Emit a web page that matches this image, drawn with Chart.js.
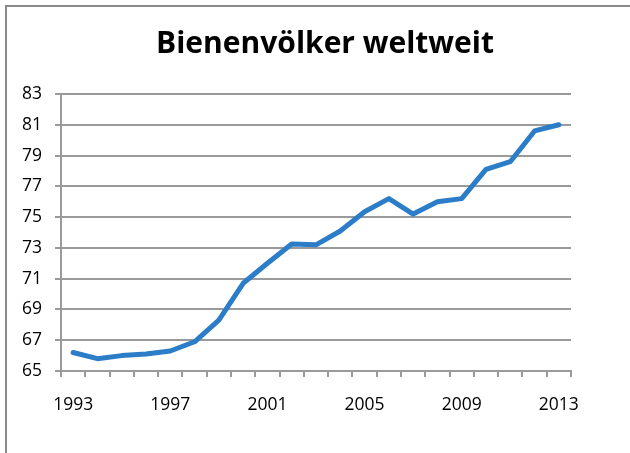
<!DOCTYPE html>
<html>
<head>
<meta charset="utf-8">
<script src="https://cdn.jsdelivr.net/npm/chart.js@4.4.1/dist/chart.umd.min.js"></script>
<style>
  html, body { margin: 0; padding: 0; background: #fff; }
  #wrap { position: relative; width: 630px; height: 453px; overflow: hidden; }
  #frame { position: absolute; left: 5px; top: 5px; width: 640px; height: 460px;
           border-top: 2.5px solid #8a8a8a; border-left: 2.5px solid #8a8a8a; box-sizing: border-box; }
  canvas { position: absolute; left: 0; top: 0; }
</style>
</head>
<body>
<div id="wrap">
  <div id="frame"></div>
  <canvas id="c" width="630" height="453"></canvas>
</div>
<script>
const years = ["1993","1994","1995","1996","1997","1998","1999","2000","2001","2002","2003",
               "2004","2005","2006","2007","2008","2009","2010","2011","2012","2013"];
const colonies = [66.2, 65.8, 66.0, 66.1, 66.3, 66.9, 68.3, 70.7, 72.0, 73.25, 73.2,
                  74.1, 75.35, 76.2, 75.2, 76.0, 76.2, 78.1, 78.6, 80.6, 81.0];
const shownYears = ["1993","1997","2001","2005","2009","2013"];
const titleText = "Bienenvölker weltweit";

const gridColor = '#9a9a9a';

// centre the title over the whole framed panel rather than the padded box
const titleCenter = {
  id: 'titleCenter',
  afterLayout(chart) {
    const t = chart.titleBlock;
    if (t) { t.left = 10; t.right = 640; t.width = t.right - t.left; }
  }
};

new Chart(document.getElementById('c'), {
  type: 'line',
  data: {
    labels: years,
    datasets: [{
      data: colonies,
      borderColor: '#2b7dc8',
      borderWidth: 5,
      pointRadius: 0,
      tension: 0,
      fill: false,
      borderJoinStyle: 'round',
      borderCapStyle: 'round'
    }]
  },
  plugins: [titleCenter],
  options: {
    responsive: false,
    animation: false,
    devicePixelRatio: 1,
    layout: { padding: { left: 0, right: 59, top: 0, bottom: 0 } },
    plugins: {
      legend: { display: false },
      tooltip: { enabled: false },
      title: {
        display: true,
        text: titleText,
        color: '#000',
        font: { family: 'Open Sans', weight: 'bold', size: 30, lineHeight: 1.2 },
        padding: { top: 26, bottom: 32 }
      }
    },
    scales: {
      x: {
        type: 'category',
        offset: true,
        grid: { offset: true, drawOnChartArea: false, drawTicks: true, tickLength: 6,
                color: gridColor, lineWidth: 2 },
        border: { color: gridColor, width: 2 },
        ticks: {
          autoSkip: false, maxRotation: 0, minRotation: 0, padding: 18,
          color: '#000', font: { family: 'Open Sans', size: 17.5 },
          callback: function(v) { const l = this.getLabelForValue(v); return shownYears.includes(l) ? l : ''; }
        },
        afterFit: s => { s.height = 82; }
      },
      y: {
        min: 65, max: 83,
        grid: { color: gridColor, lineWidth: 2, tickLength: 6 },
        border: { color: gridColor, width: 2 },
        ticks: { stepSize: 2, padding: 13, color: '#000', font: { family: 'Open Sans', size: 17.5 } },
        afterFit: s => { s.width = 61; }
      }
    }
  }
});
</script>
</body>
</html>
